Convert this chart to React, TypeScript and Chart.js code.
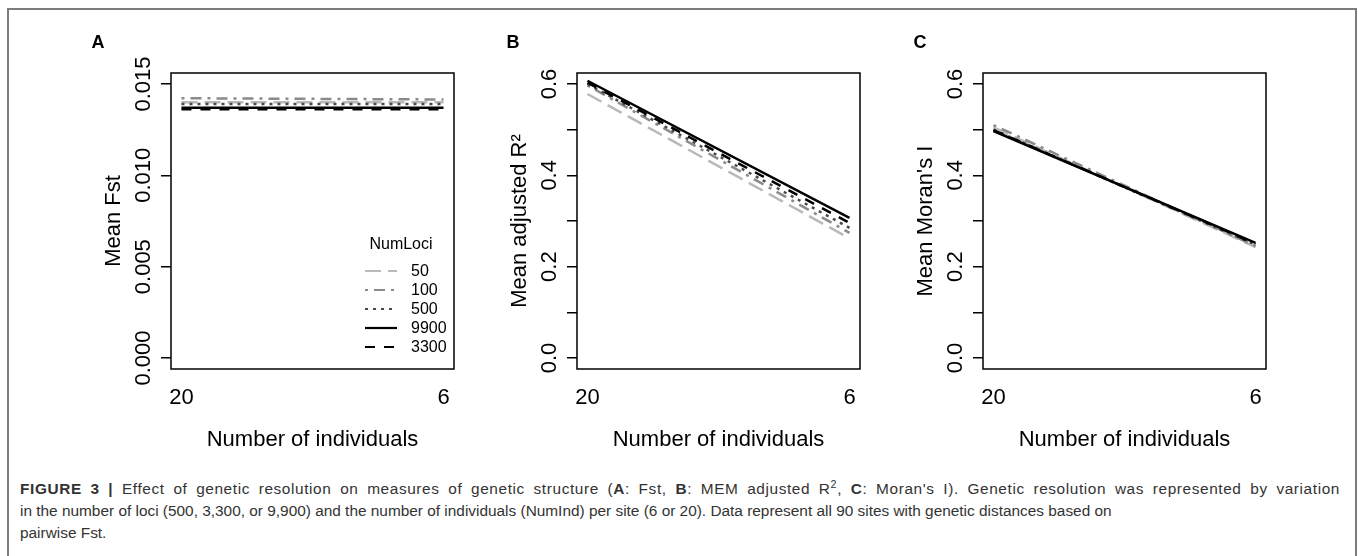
import React, { useEffect, useRef } from "react";
import { Chart, registerables } from "chart.js";

Chart.register(...registerables);

// ---------------- data ----------------
const lociLabels = ["50", "100", "500", "9900", "3300"];
const individualsLabels = ["20", "6"]; // x positions 1 and 2
const fstAt20 = [0.0140, 0.01422, 0.01390, 0.01370, 0.01362];
const fstAt6 = [0.0140, 0.01415, 0.01390, 0.01370, 0.01362];
const r2At20 = [0.578, 0.597, 0.600, 0.607, 0.603];
const r2At6 = [0.262, 0.274, 0.285, 0.307, 0.296];
const moranAt20 = [0.505, 0.510, 0.500, 0.497, 0.499];
const moranAt6 = [0.243, 0.245, 0.248, 0.252, 0.250];
const fstTicks = [0, 0.005, 0.01, 0.015];
const fstLabelTicks = [0, 0.005, 0.01, 0.015];
const propTicks = [0, 0.1, 0.2, 0.3, 0.4, 0.5, 0.6];
const propLabelTicks = [0, 0.2, 0.4, 0.6];

// ---------------- styles ----------------
const FONT = "'Liberation Sans', Arial, Helvetica, sans-serif";
const lociColors = ["#b9b9b9", "#8a8a8a", "#4a4a4a", "#000000", "#000000"];
const lociDashes: number[][] = [[16, 7], [3, 6, 11, 6], [3, 5], [], [10, 9]];
const lociOrder = [4, 3, 2, 0, 1];

Chart.defaults.font.family = FONT;

type PanelProps = {
  left: number;
  letter: string;
  letterX: number;
  yTitle: string;
  v20: number[];
  v6: number[];
  yMin: number;
  yMax: number;
  ticks: number[];
  labelTicks: number[];
  decimals: number;
  legend: boolean;
};

const CW = 406;
const CH = 470;

function Panel(p: PanelProps) {
  const ref = useRef<HTMLCanvasElement>(null);
  useEffect(() => {
    const datasets = lociLabels.map((lab, i) => ({
      label: lab,
      data: [
        { x: 1, y: p.v20[i] },
        { x: 2, y: p.v6[i] },
      ],
      borderColor: lociColors[i],
      borderDash: lociDashes[i],
      borderWidth: 2.5,
      pointRadius: 0,
      order: lociOrder[i],
      borderCapStyle: "butt" as const,
    }));

    const decor = {
      id: "decor",
      afterDraw(chart: any) {
        const { ctx, chartArea } = chart;
        const ys = chart.scales.y;
        ctx.save();
        // box
        ctx.strokeStyle = "#000";
        ctx.lineWidth = 1.5;
        ctx.strokeRect(
          chartArea.left,
          chartArea.top,
          chartArea.right - chartArea.left,
          chartArea.bottom - chartArea.top
        );
        // y tick labels (rotated, as in R)
        ctx.fillStyle = "#000";
        ctx.font = `22px ${FONT}`;
        ctx.textAlign = "center";
        ctx.textBaseline = "middle";
        p.labelTicks.forEach((v) => {
          const y = ys.getPixelForValue(v);
          ctx.save();
          ctx.translate(chartArea.left - 27, y);
          ctx.rotate(-Math.PI / 2);
          ctx.fillText(v.toFixed(p.decimals), 0, 0);
          ctx.restore();
        });
        // panel letter
        ctx.font = `bold 18px ${FONT}`;
        ctx.fillText(p.letter, p.letterX - p.left, 43);
        // legend
        if (p.legend) {
          const lx = chartArea.left + 194;
          ctx.font = `16px ${FONT}`;
          ctx.textAlign = "center";
          ctx.fillText("NumLoci", chartArea.left + 230, 245);
          ctx.textAlign = "left";
          chart.data.datasets.forEach((ds: any, i: number) => {
            const y = 271 + i * 19;
            ctx.save();
            ctx.strokeStyle = ds.borderColor;
            ctx.lineWidth = 2.2;
            ctx.setLineDash(ds.borderDash);
            ctx.beginPath();
            ctx.moveTo(lx, y);
            ctx.lineTo(lx + 32, y);
            ctx.stroke();
            ctx.restore();
            ctx.fillStyle = "#000";
            ctx.fillText(ds.label, chartArea.left + 240, y + 1);
          });
        }
        ctx.restore();
      },
    };

    const chart = new Chart(ref.current!, {
      type: "line",
      data: { datasets },
      plugins: [decor],
      options: {
        animation: false,
        responsive: false,
        devicePixelRatio: 1,
        events: [],
        layout: { padding: { top: 73, right: 10, left: 0, bottom: 0 } },
        plugins: { legend: { display: false }, tooltip: { enabled: false } },
        scales: {
          x: {
            type: "linear",
            min: 0.96,
            max: 2.04,
            afterBuildTicks: (s: any) => {
              s.ticks = [{ value: 1 }, { value: 2 }];
            },
            afterFit: (s: any) => {
              s.height = 101;
            },
            grid: { display: false, drawTicks: false },
            border: { display: false },
            ticks: {
              autoSkip: false,
              maxRotation: 0,
              minRotation: 0,
              padding: 16,
              color: "#000",
              font: { size: 22, family: FONT },
              callback: (v: any) => individualsLabels[Math.round(v) - 1] ?? "",
            },
            title: {
              display: true,
              text: "Number of individuals",
              color: "#000",
              font: { size: 22, family: FONT },
              padding: { top: 0, bottom: 17 },
            },
          },
          y: {
            type: "linear",
            min: p.yMin,
            max: p.yMax,
            afterBuildTicks: (s: any) => {
              s.ticks = p.ticks.map((v) => ({ value: v }));
            },
            afterFit: (s: any) => {
              s.width = 111;
            },
            grid: {
              display: true,
              drawOnChartArea: false,
              drawTicks: true,
              tickLength: 10,
              tickColor: "#000",
              lineWidth: 1.5,
            },
            border: { display: false },
            ticks: { display: false },
            title: {
              display: true,
              text: p.yTitle,
              color: "#000",
              font: { size: 22, family: FONT },
              padding: { top: 41, bottom: 0 },
            },
          },
        },
      },
    });
    return () => chart.destroy();
  }, []);
  return (
    <canvas
      ref={ref}
      width={CW}
      height={CH}
      style={{ position: "absolute", left: p.left, top: 0, width: CW, height: CH }}
    />
  );
}

export default function App() {
  return (
    <div
      style={{
        position: "absolute",
        left: 0,
        top: 0,
        width: 1358,
        height: 556,
        background: "#fff",
        overflow: "hidden",
        fontFamily: FONT,
      }}
    >
      <div
        style={{
          position: "absolute",
          left: 7,
          top: 8,
          width: 1346,
          height: 700,
          border: "2px solid #7c7c7c",
        }}
      />
      <Panel
        left={60}
        letter="A"
        letterX={98}
        yTitle="Mean Fst"
        v20={fstAt20}
        v6={fstAt6}
        yMin={-0.0006}
        yMax={0.0156}
        ticks={fstTicks}
        labelTicks={fstLabelTicks}
        decimals={3}
        legend={true}
      />
      <Panel
        left={466}
        letter="B"
        letterX={513}
        yTitle="Mean adjusted R²"
        v20={r2At20}
        v6={r2At6}
        yMin={-0.024}
        yMax={0.624}
        ticks={propTicks}
        labelTicks={propLabelTicks}
        decimals={1}
        legend={false}
      />
      <Panel
        left={872}
        letter="C"
        letterX={920}
        yTitle="Mean Moran's I"
        v20={moranAt20}
        v6={moranAt6}
        yMin={-0.024}
        yMax={0.624}
        ticks={propTicks}
        labelTicks={propLabelTicks}
        decimals={1}
        legend={false}
      />
      <div
        style={{
          position: "absolute",
          left: 20,
          top: 478,
          width: 1320,
          fontSize: 15.4,
          lineHeight: "22px",
          color: "#333",
          whiteSpace: "nowrap",
        }}
      >
        <div
          style={{
            textAlign: "justify",
            textAlignLast: "justify",
            whiteSpace: "normal",
            letterSpacing: "0.6px",
          }}
        >
          <b>FIGURE 3 |</b> Effect of genetic resolution on measures of genetic structure (<b>A</b>: Fst,{" "}
          <b>B</b>: MEM adjusted R<sup style={{ fontSize: "0.7em", lineHeight: 0 }}>2</sup>, <b>C</b>: Moran's I). Genetic
          resolution was represented by variation
        </div>
        <div>
          in the number of loci (500, 3,300, or 9,900) and the number of individuals (NumInd) per site (6 or 20). Data
          represent all 90 sites with genetic distances based on
        </div>
        <div>pairwise Fst.</div>
      </div>
    </div>
  );
}
